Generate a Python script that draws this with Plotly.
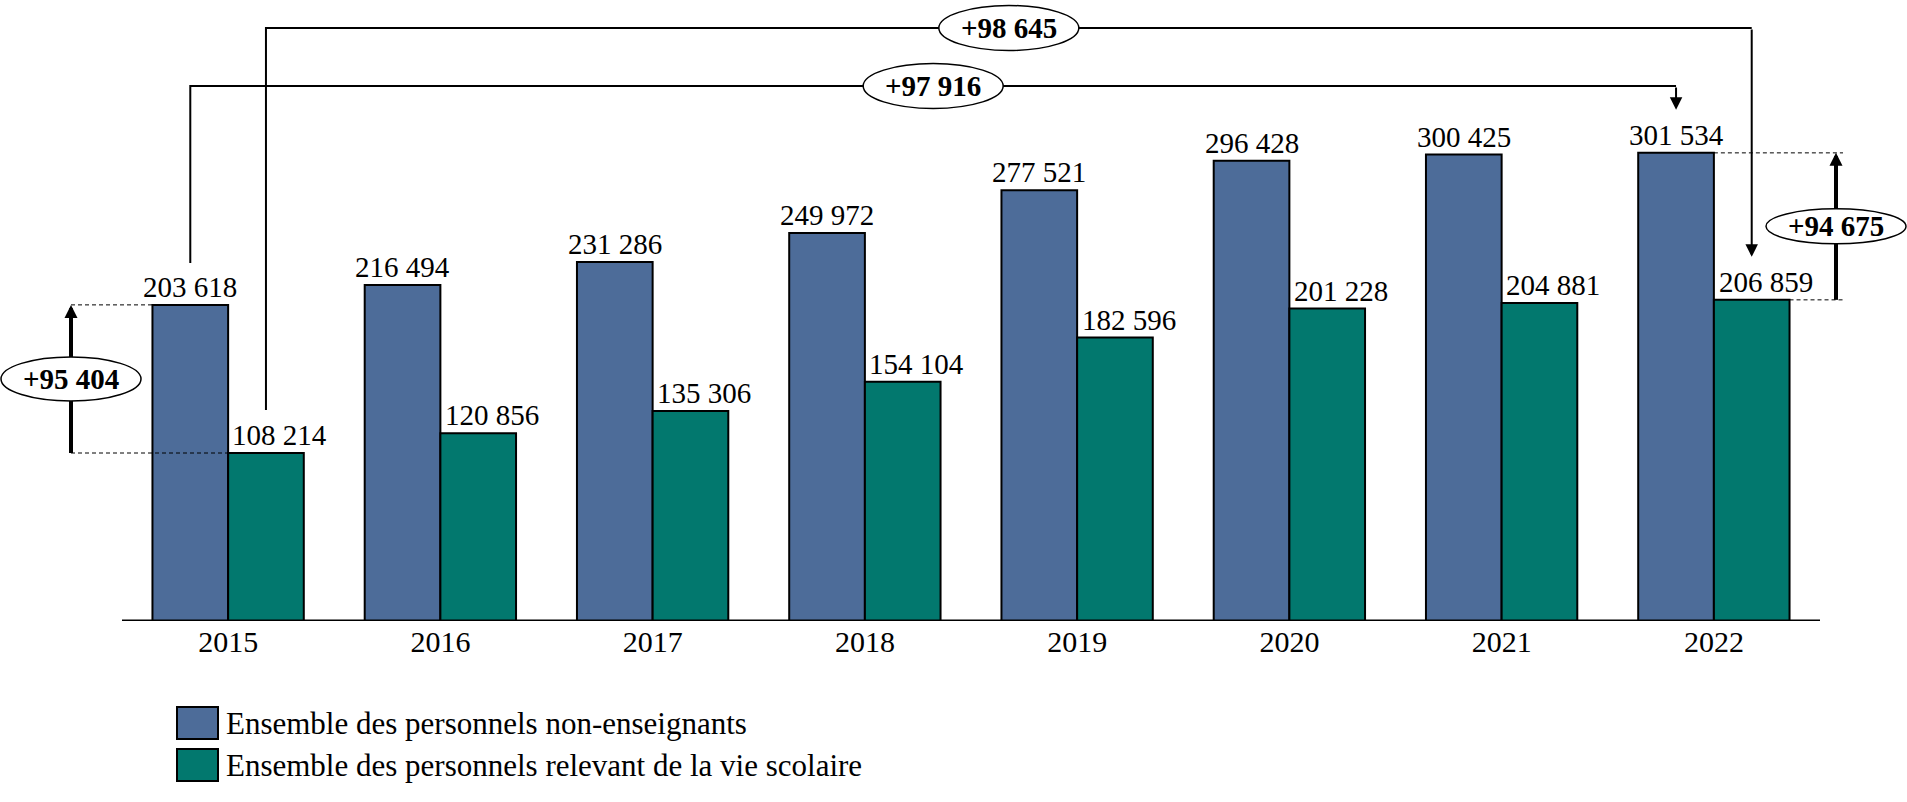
import plotly.graph_objects as go

years = ["2015", "2016", "2017", "2018", "2019", "2020", "2021", "2022"]
non_enseignants = [203618, 216494, 231286, 249972, 277521, 296428, 300425, 301534]
vie_scolaire = [108214, 120856, 135306, 154104, 182596, 201228, 204881, 206859]
series_names = ["Ensemble des personnels non-enseignants",
                "Ensemble des personnels relevant de la vie scolaire"]

BLUE = "#4D6C99"
GREEN = "#02786E"
FONT = "Liberation Serif"

W, H = 1907, 802
AXIS_PX = 621          # pixel row of the baseline
Y_MAX = 400000
k = Y_MAX / AXIS_PX    # data units per pixel
CAT_PX = 212.25        # pixel width of one category
BARGAP = 0.287
half = (1 - BARGAP) / 2
off = half / 2         # centre offset of each bar in its group


def fmt(v, sign=False):
    s = f"{v:,}".replace(",", " ")
    return ("+" + s) if sign else s


def xpx(p):
    # pixel column -> x data value
    return (p - 122) / CAT_PX - 0.5


idx = list(range(len(years)))
fig = go.Figure()
fig.add_trace(go.Bar(x=idx, y=non_enseignants, name=series_names[0],
                     marker=dict(color=BLUE, line=dict(color="black", width=2))))
fig.add_trace(go.Bar(x=idx, y=vie_scolaire, name=series_names[1],
                     marker=dict(color=GREEN, line=dict(color="black", width=2))))

shapes = []
annotations = []

# baseline
shapes.append(dict(type="line", xref="x", yref="y", x0=-0.5, x1=len(years) - 0.5,
                   y0=0, y1=0, line=dict(color="black", width=3)))

# value labels
for i in idx:
    annotations.append(dict(x=i - off, y=non_enseignants[i], xref="x", yref="y",
                            text=fmt(non_enseignants[i]), showarrow=False,
                            yanchor="bottom", font=dict(size=29)))
    annotations.append(dict(x=i + off, y=vie_scolaire[i], xref="x", yref="y",
                            text=fmt(vie_scolaire[i]), showarrow=False, xshift=14,
                            yanchor="bottom", font=dict(size=29)))


def ellipse(cx, cy, text, w=140, h=45):
    shapes.append(dict(type="circle", xref="x", yref="y", xsizemode="pixel",
                       ysizemode="pixel", xanchor=cx, yanchor=cy,
                       x0=-w / 2, x1=w / 2, y0=-h / 2, y1=h / 2,
                       fillcolor="white", line=dict(color="black", width=1.5)))
    annotations.append(dict(x=cx, y=cy, xref="x", yref="y", text="<b>%s</b>" % text,
                            showarrow=False, font=dict(size=29)))


def gap_arrow(xa, lo, hi, top_span, bot_span, ell_h):
    # dashed guides
    guide = dict(color="black", width=1, dash="4px,3px")
    shapes.append(dict(type="line", xref="x", yref="y", x0=top_span[0], x1=top_span[1],
                       y0=hi, y1=hi, line=guide))
    shapes.append(dict(type="line", xref="x", yref="y", x0=bot_span[0], x1=bot_span[1],
                       y0=lo, y1=lo, line=guide))
    # shaft
    shapes.append(dict(type="line", xref="x", yref="y", x0=xa, x1=xa, y0=lo, y1=hi - 12 * k,
                       line=dict(color="black", width=4)))
    mid = (lo + hi) / 2
    ellipse(xa, mid, fmt(hi - lo, True), h=ell_h)
    annotations.append(dict(x=xa, y=hi, ax=xa, ay=mid + ell_h / 2 * k, xref="x", yref="y",
                            axref="x", ayref="y", text="", showarrow=True, arrowhead=2,
                            arrowwidth=4, arrowsize=0.65, arrowcolor="black", standoff=0))


def bracket(x0, y0, x1, y1, level, text):
    shapes.append(dict(type="path", xref="x", yref="y",
                       path=f"M{x0},{y0} L{x0},{level} L{x1},{level}",
                       line=dict(color="black", width=2)))
    annotations.append(dict(x=x1, y=y1, ax=x1, ay=level, xref="x", yref="y",
                            axref="x", ayref="y", text="", showarrow=True, arrowhead=2,
                            arrowwidth=2, arrowsize=1.25, arrowcolor="black", standoff=0))
    ellipse((x0 + x1) / 2, level, text)


last = len(years) - 1
# gap between the two series in 2015 (left) and 2022 (right)
xl = xpx(71)
gap_arrow(xl, vie_scolaire[0], non_enseignants[0], (xl, -half), (xl, 0), 44)
xr = xpx(1836)
xend = xpx(1843)
gap_arrow(xr, vie_scolaire[last], non_enseignants[last], (last, xend),
          (last + half, xend), 35)
# evolution brackets 2015 -> 2022
bracket(-off, non_enseignants[0] + 42 * k, last - off, non_enseignants[last] + 43 * k,
        (AXIS_PX - 86) * k, fmt(non_enseignants[last] - non_enseignants[0], True))
bracket(off, vie_scolaire[0] + 43 * k, last + off, vie_scolaire[last] + 43 * k,
        (AXIS_PX - 28) * k, fmt(vie_scolaire[last] - vie_scolaire[0], True))

# legend
for j, (name, col) in enumerate(zip(series_names, [BLUE, GREEN])):
    top, bot = [(707, 739), (749, 781)][j]
    shapes.append(dict(type="rect", xref="paper", yref="paper",
                       x0=177 / W, x1=218 / W,
                       y0=(AXIS_PX - bot) / AXIS_PX, y1=(AXIS_PX - top) / AXIS_PX,
                       fillcolor=col, line=dict(color="black", width=2)))
    annotations.append(dict(x=224 / W, y=(AXIS_PX - (top + bot) / 2) / AXIS_PX,
                            xref="paper", yref="paper", xanchor="left", yanchor="middle",
                            text=name, showarrow=False, font=dict(size=31)))

fig.update_layout(
    width=W, height=H,
    margin=dict(l=0, r=0, t=0, b=H - AXIS_PX),
    barmode="group", bargap=BARGAP, bargroupgap=0,
    showlegend=False,
    plot_bgcolor="white", paper_bgcolor="white",
    font=dict(family=FONT, color="black", size=29),
    xaxis=dict(range=[xpx(0), xpx(W)], tickvals=idx, ticktext=years, showgrid=False,
               zeroline=False, showline=False, ticks="", tickfont=dict(size=30)),
    yaxis=dict(range=[0, Y_MAX], visible=False),
    shapes=shapes,
    annotations=annotations,
)

fig.write_html("out.html", config={"displayModeBar": False},
               post_script="document.body.style.margin='0';")
